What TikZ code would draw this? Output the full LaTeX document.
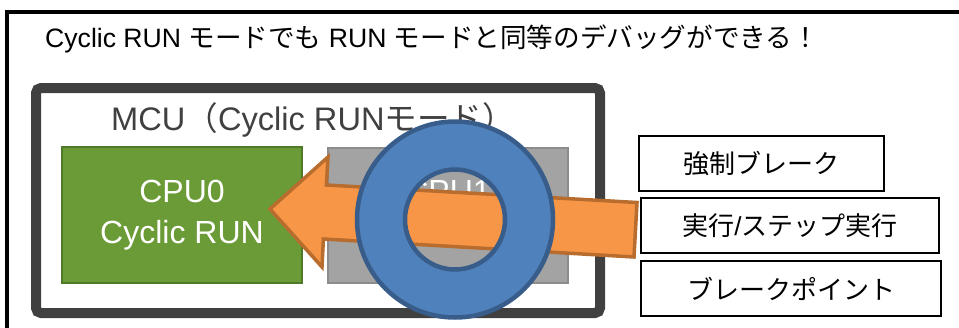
\documentclass[tikz,border=0pt]{standalone}
\usepackage{fontspec}
\setmainfont{Liberation Sans}
\newfontfamily\jpfont{Noto Sans CJK JP}
\newcommand\jtxt[1]{{\jpfont #1}}

\definecolor{mcuedge}{HTML}{404040}
\definecolor{cpugreen}{HTML}{6B9B37}
\definecolor{cpugreenedge}{HTML}{4F7A28}
\definecolor{cpugray}{HTML}{A3A3A3}
\definecolor{cpugrayedge}{HTML}{8C8C8C}
\definecolor{arroworange}{HTML}{F79646}
\definecolor{arrowedge}{HTML}{B86C2E}
\definecolor{ringblue}{HTML}{4F81BD}
\definecolor{ringedge}{HTML}{385D8A}

\tikzset{
  cpubox/.style={draw, line width=2.5pt, minimum width=240pt, minimum height=136pt,
    inner sep=0pt, align=center, text=white,
    font=\fontsize{32}{41}\selectfont},
  opbox/.style={draw=black, fill=white, line width=1.5pt, minimum height=55pt,
    inner sep=0pt, font=\fontsize{26}{30}\selectfont},
}

\begin{document}
\begin{tikzpicture}[x=1pt, y=-1pt]
  \useasboundingbox (0,0) rectangle (959,327);
  \clip (0,0) rectangle (959,327);

  % outer frame running past the page edges
  \draw[line width=4.5pt] (7,12) rectangle (1000,360);

  % headline
  \node[anchor=base west, inner sep=0pt, font=\fontsize{26.6}{30}\selectfont] (title) at (45,47)
    {Cyclic RUN \jtxt{モードでも} RUN \jtxt{モードと同等のデバッグができる！}};

  % MCU package
  \node[draw=mcuedge, fill=white, line width=10pt, rounded corners=5pt,
        minimum width=564pt, minimum height=225pt, inner sep=0pt] (mcu) at (318,200.5) {};
  \node[anchor=base west, inner sep=0pt, text=mcuedge, font=\fontsize{32.6}{38}\selectfont] (mculabel)
    at (111,130) {MCU\jtxt{（}Cyclic RUN\jtxt{モード）}};

  % cores
  \node[cpubox, fill=cpugreen, draw=cpugreenedge] (cpu0) at (182,215) {CPU0\\Cyclic RUN};
  \node[cpubox, fill=cpugray, draw=cpugrayedge, minimum height=135pt] (cpu1) at (448,215.5) {CPU1\\Cyclic RUN};

  % debug operations
  \node[opbox, minimum width=245pt] (brk) at (761.5,163.5) {\jtxt{強制ブレーク}};
  \node[opbox, minimum width=298pt] (step) at (790,225.5) {\jtxt{実行}/\jtxt{ステップ実行}};
  \node[opbox, minimum width=300pt] (bp) at (791,288.5) {\jtxt{ブレークポイント}};

  % block arrow from the operations towards CPU0
  \coordinate (tip) at (270,209);
  \coordinate (headtop) at (328,157);
  \coordinate (neckT) at (326.4,185);
  \coordinate (tailT) at (637,202.5);
  \coordinate (tailB) at (634,257);
  \coordinate (neckB) at (323.4,239);
  \coordinate (headbot) at (322,267);
  \draw[fill=arroworange, draw=arrowedge, line width=3.5pt, line join=miter]
    (tip) -- (headtop) -- (neckT) -- (tailT) -- (tailB) -- (neckB) -- (headbot) -- cycle;

  % ring symbol
  \coordinate (ring) at (455,219.5);
  \fill[ringblue, even odd rule] (ring) circle[radius=98] (ring) circle[radius=50];
  \draw[ringedge, line width=4.5pt] (ring) circle[radius=98];
  \draw[ringedge, line width=4.5pt] (ring) circle[radius=50];
\end{tikzpicture}
\end{document}
